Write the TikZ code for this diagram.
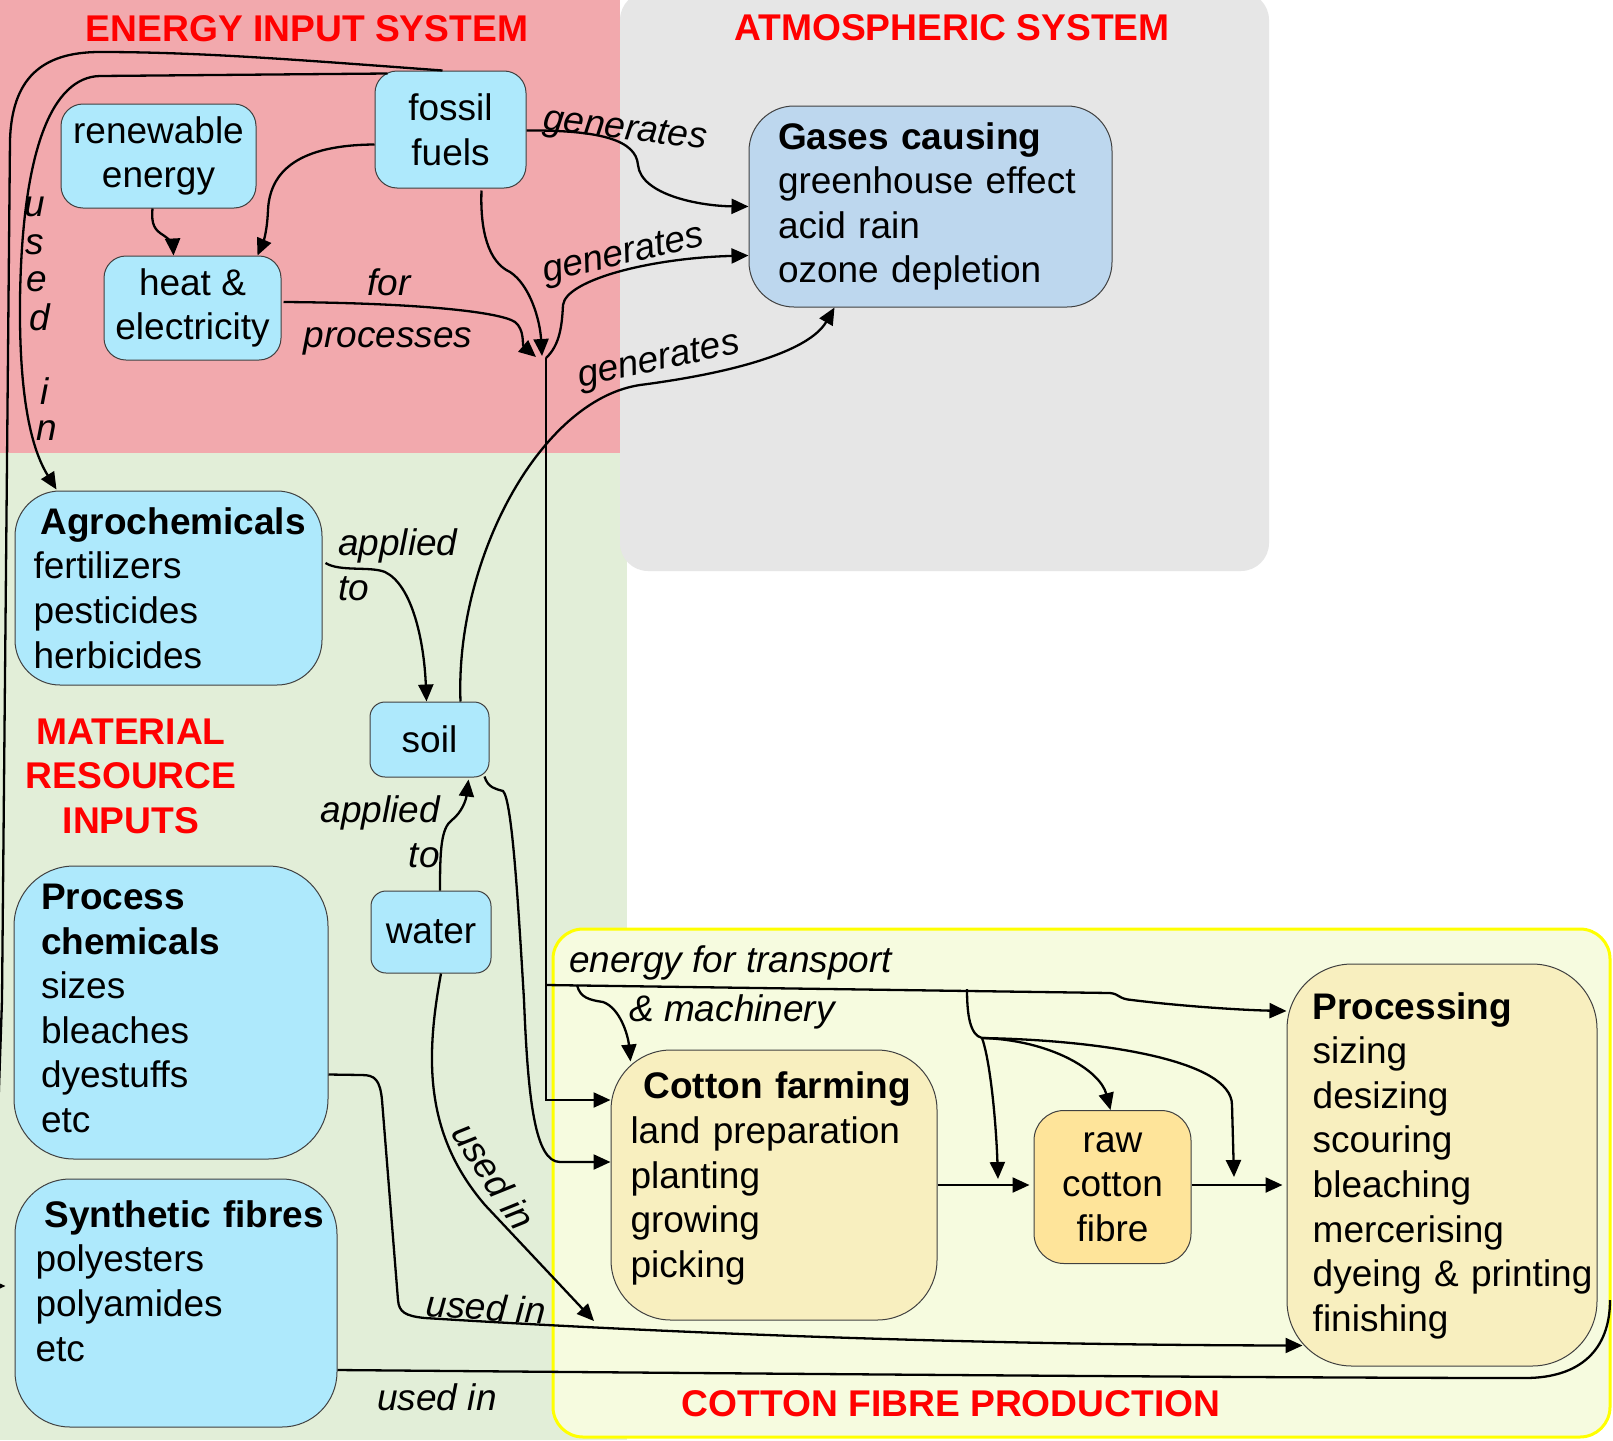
\documentclass[tikz,border=0pt]{standalone}
\usepackage{fontspec}
\setmainfont{Liberation Sans}
\usetikzlibrary{arrows.meta,calc}
\hyphenpenalty=10000
\exhyphenpenalty=10000
\definecolor{pinkbg}{HTML}{F2A9AD}
\definecolor{greenbg}{HTML}{E2EED8}
\definecolor{graybg}{HTML}{E6E6E6}
\definecolor{yellowbg}{HTML}{F6FBDF}
\definecolor{yellowline}{HTML}{FFFF00}
\definecolor{cyanbox}{HTML}{AEE9FC}
\definecolor{gasbox}{HTML}{BDD7EE}
\definecolor{tanbox}{HTML}{F8EFBF}
\definecolor{rawbox}{HTML}{FEE49A}
\definecolor{titlered}{HTML}{FF0000}
\begin{document}
\begin{tikzpicture}[x=1pt,y=-1pt,
  font=\fontsize{37}{44.6}\selectfont,
  bx/.style={draw=black!75, line width=1pt, inner ysep=0pt},
  cbox/.style={bx, fill=cyanbox},
  gbox/.style={bx, fill=gasbox},
  tbox/.style={bx, fill=tanbox},
  rbox/.style={bx, fill=rawbox},
  lbl/.style={font=\fontsize{37}{44.6}\selectfont\itshape, inner sep=0pt},
  ttl/.style={font=\fontsize{37.2}{44.6}\selectfont\bfseries, text=titlered, inner sep=0pt},
  conn/.style={line width=2.3pt},
  arr/.style={line width=2.3pt, -{Triangle[length=17pt,width=15pt]}}
]
\useasboundingbox (0,0) rectangle (1613,1440);
% backgrounds
\fill[white] (0,0) rectangle (1613,1440);
\fill[pinkbg] (0,0) rectangle (620,453);
\fill[greenbg] (0,453) rectangle (627,1440);
\fill[graybg, rounded corners=28pt] (620,-8) rectangle (1269,571);
\draw[yellowline, fill=yellowbg, line width=3pt, rounded corners=30pt] (553,929) rectangle (1610,1437);

% titles
\node[ttl] (t1) at (307,29) {ENERGY INPUT SYSTEM};
\node[ttl] (t2) at (952,28) {ATMOSPHERIC SYSTEM};
\node[ttl, align=center] (t3) at (131,776) {MATERIAL\\RESOURCE\\INPUTS};
\node[ttl] (t4) at (951,1404) {COTTON FIBRE PRODUCTION};

% nodes
\node[cbox, rounded corners=22pt, minimum width=195pt, minimum height=104pt, align=center, inner xsep=4pt] (renew) at (158.5,156) {renewable\\energy};
\node[cbox, rounded corners=22pt, minimum width=151pt, minimum height=117pt, align=center, inner xsep=4pt] (fossil) at (450.5,129.5) {fossil\\fuels};
\node[cbox, rounded corners=22pt, minimum width=177pt, minimum height=104pt, align=center, inner xsep=4pt] (heat) at (192.5,308) {heat \&\\electricity};
\node[gbox, rounded corners=45pt, minimum width=363pt, minimum height=201pt, text width=305pt, inner xsep=29pt, align=left] (gases) at (930.5,206.5)
  {\mbox{\textbf{Gases causing}}\\\mbox{greenhouse effect}\\\mbox{acid rain}\\\mbox{ozone depletion}};
\node[cbox, rounded corners=45pt, minimum width=307pt, minimum height=194pt, text width=270pt, inner xsep=18.5pt, align=left] (agro) at (168.5,588)
  {\hspace*{7pt}\mbox{\textbf{Agrochemicals}}\\fertilizers\\pesticides\\herbicides};
\node[cbox, rounded corners=15pt, minimum width=119pt, minimum height=75pt, inner xsep=2pt] (soil) at (429.5,739.5) {soil};
\node[cbox, rounded corners=15pt, minimum width=120pt, minimum height=82pt, inner xsep=2pt] (water) at (431,932) {water};
\node[cbox, rounded corners=60pt, minimum width=314pt, minimum height=293pt, text width=260pt, inner xsep=27pt, align=left] (pc) at (171,1012.5)
  {\mbox{\textbf{Process}}\\\mbox{\textbf{chemicals}}\\sizes\\bleaches\\dyestuffs\\etc\\[-36pt]\mbox{}};
\node[cbox, rounded corners=55pt, minimum width=322pt, minimum height=248pt, text width=281pt, inner xsep=20.5pt, align=left] (synth) at (176,1303)
  {\hspace*{9pt}\mbox{\textbf{Synthetic fibres}}\\polyesters\\polyamides\\etc\\\mbox{}};
\node[tbox, rounded corners=60pt, minimum width=326pt, minimum height=270pt, text width=287pt, inner xsep=19.5pt, align=left] (cf) at (774,1185)
  {\hspace*{13pt}\mbox{\textbf{Cotton farming}}\\\mbox{land preparation}\\planting\\growing\\picking\\[-24pt]\mbox{}};
\node[rbox, rounded corners=30pt, minimum width=157pt, minimum height=153pt, align=center, inner xsep=4pt] (raw) at (1112.5,1187) {raw\\cotton\\fibre};
\node[tbox, rounded corners=65pt, minimum width=310pt, minimum height=402pt, text width=258.6pt, inner xsep=25.7pt, align=left] (proc) at (1442,1165)
  {\mbox{\textbf{Processing}}\\sizing\\desizing\\scouring\\bleaching\\mercerising\\\mbox{dyeing \& printing}\\finishing\\[-38pt]\mbox{}};

% named junctions
\coordinate (J) at (546,358);
\coordinate (T0) at (546,985);
\coordinate (T3) at (577,985);
\coordinate (T1) at (967,989);
\coordinate (T2) at (982,1038);
\coordinate (aTip) at (998,1179);
\coordinate (cTip) at (1234,1177);
\coordinate (wTip) at (594,1321);
\coordinate (sEnd) at (1610,1300);
\coordinate (leftTip) at ($(synth.west)+(-9,-17)$);

% connectors: energy system
\draw[arr] ($(fossil.east)+(0,1)$) .. controls (600,130) and (636,140) .. (638,165) .. controls (641,195) and (700,206) .. (gases.west);
\draw[arr] ($(fossil.west)+(0,15)$) .. controls (300,145) and (270,170) .. (268,210) .. controls (267,235) and (262,245) .. ($(heat.north east)+(-24,0)$);
\draw[arr] ($(renew.south)+(-6,0)$) .. controls (151,225) and (155,230) .. (163,235) .. controls (171,240) and (173,246) .. ($(heat.north)+(-19,0)$);
\draw[arr] ($(fossil.south)+(31,2)$) .. controls (480,230) and (488,262) .. (510,272) .. controls (530,285) and (540,320) .. ($(J)+(-4,-2)$);
\draw[arr] ($(heat.east)+(2,-6)$) .. controls (420,303) and (500,312) .. (515,322) .. controls (525,330) and (522,345) .. ($(J)+(-10,-1)$);
\draw[arr] (J) .. controls (560,345) and (562,325) .. (563,305) .. controls (566,280) and (650,258) .. ($(gases.west)+(0,49)$);
\draw[arr] (J) |- ($(cf.west)+(0,-85)$);

% fossil fuels used in
\draw[arr] ($(fossil.north)+(-8,0)$) .. controls (300,60) and (200,52) .. (100,52) .. controls (40,52) and (12,80) .. (10,140) -- (2,1000) .. controls (-3,1150) and (-8,1286) .. (leftTip);
\draw[arr] ($(fossil.north west)+(13,3)$) -- (100,76) .. controls (52,77) and (22,150) .. (20,300) .. controls (19,400) and (32,450) .. ($(agro.north west)+(42,-1)$);

% transport
\draw[arr] (T0) -- (1110,993) .. controls (1120,994) and (1118,999) .. (1132,1000) .. controls (1180,1006) and (1240,1010) .. ($(proc.west)+(0,-154)$);
\draw[arr] (T3) .. controls (580,998) and (590,1000) .. (603,1002) .. controls (620,1008) and (628,1035) .. ($(cf.north west)+(20,12)$);
\draw[conn] (T1) .. controls (967,1015) and (970,1035) .. (T2);
\draw[arr] (T2) .. controls (990,1060) and (996,1120) .. (aTip);
\draw[arr] (T2) .. controls (1050,1040) and (1100,1070) .. ($(raw.north)+(-2,0)$);
\draw[arr] (T2) .. controls (1100,1040) and (1232,1060) .. (1232,1105) -- (cTip);

% production chain
\draw[arr, shorten >=4pt] ($(cf.east)+(0,0)$) -- ($(cf.east -| raw.west)$);
\draw[arr, shorten >=4pt] ($(raw.east)+(0,-2)$) -- ($(raw.east -| proc.west)+(0,-2)$);

% material inputs
\draw[arr] ($(agro.east)+(3,-25)$) .. controls (340,572) and (370,566) .. (385,572) .. controls (412,585) and (424,640) .. ($(soil.north)+(-3,0)$);
\draw[arr] ($(water.north)+(9,0)$) .. controls (440,850) and (441,828) .. (452,820) .. controls (462,812) and (466,800) .. ($(soil.south)+(39,2)$);
\draw[arr] ($(soil.north)+(31,0)$) .. controls (455,560) and (540,400) .. (640,385) .. controls (740,372) and (810,350) .. ($(gases.south)+(-96,0)$);
\draw[arr] ($(soil.south east)+(-5,-1)$) .. controls (488,788) and (496,789) .. (503,791) .. controls (512,800) and (518,900) .. (524,1000) .. controls (528,1100) and (535,1162) .. (560,1162) -- ($(cf.west)+(0,-23)$);
\draw[arr] ($(water.south)+(10,0)$) .. controls (425,1060) and (425,1135) .. (485,1205) -- (wTip);
\draw[arr] ($(pc.east)+(0,62)$) -- (362,1075) .. controls (375,1075) and (380,1080) .. (382,1100) -- (398,1300) .. controls (399,1312) and (405,1316) .. (425,1318) .. controls (700,1335) and (1000,1345) .. ($(proc.south west)+(16,-21)$);
\draw[conn] ($(synth.east)+(0,67)$) .. controls (800,1374) and (1300,1378) .. (1525,1378) .. controls (1580,1378) and (1610,1350) .. (sEnd);

% labels
\node[lbl, rotate=-7] (g1) at (625,131) {generates};
\node[lbl, rotate=13] (g2) at (624,256) {generates};
\node[lbl, rotate=12] (g3) at (659,362) {generates};
\node[lbl] (lfor) at (389,282) {for};
\node[lbl] (lproc) at (388,341) {processes};
\node[lbl] (u1) at (35,207) {u};
\node[lbl] (u2) at (35,245) {s};
\node[lbl] (u3) at (37,282) {e};
\node[lbl] (u4) at (40,317) {d};
\node[lbl] (u5) at (45,391) {i};
\node[lbl] (u6) at (47,431) {n};
\node[lbl, align=left, anchor=west] (ap1) at (338,565) {applied\\to};
\node[lbl, align=right, anchor=east] (ap2) at (440,832) {applied\\to};
\node[lbl, rotate=-57] (ui1) at (494,1176) {used in};
\node[lbl, rotate=-4] (ui2) at (486,1307) {used in};
\node[lbl] (ui3) at (437,1397) {used in};
\node[lbl, anchor=west] (et1) at (569,963) {energy for transport};
\node[lbl, anchor=west] (et2) at (629,1012) {\& machinery};
\end{tikzpicture}
\end{document}
